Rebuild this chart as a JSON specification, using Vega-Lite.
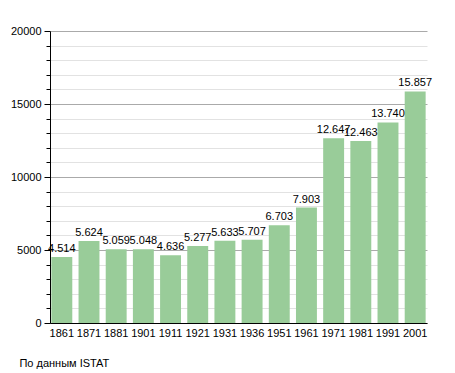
{
  "$schema": "https://vega.github.io/schema/vega-lite/v6.json",
  "width": 377,
  "height": 292,
  "autosize": "none",
  "padding": {"left": 50, "top": 31, "right": 28, "bottom": 50},
  "background": "white",
  "config": {
    "font": "Liberation Sans",
    "view": {"stroke": null},
    "locale": {"number": {"decimal": ",", "thousands": ".", "grouping": [3], "currency": ["", ""]}}
  },
  "title": {
    "text": "По данным  ISTAT",
    "orient": "bottom",
    "anchor": "start",
    "dx": 9,
    "offset": 20,
    "fontSize": 11,
    "fontWeight": "normal",
    "color": "#000000"
  },
  "data": {
    "values": [
      {"year": "1861", "pop": 4514},
      {"year": "1871", "pop": 5624},
      {"year": "1881", "pop": 5059},
      {"year": "1901", "pop": 5048},
      {"year": "1911", "pop": 4636},
      {"year": "1921", "pop": 5277},
      {"year": "1931", "pop": 5633},
      {"year": "1936", "pop": 5707},
      {"year": "1951", "pop": 6703},
      {"year": "1961", "pop": 7903},
      {"year": "1971", "pop": 12647},
      {"year": "1981", "pop": 12463},
      {"year": "1991", "pop": 13740},
      {"year": "2001", "pop": 15857}
    ]
  },
  "encoding": {
    "x": {
      "field": "year",
      "type": "ordinal",
      "sort": null,
      "scale": {"paddingInner": 0.23, "paddingOuter": 0.05},
      "axis": {
        "title": null,
        "labelAngle": 0,
        "ticks": false,
        "labelPadding": 4,
        "labelFontSize": 11,
        "labelColor": "#000000",
        "domainColor": "#000000",
        "domainWidth": 1
      }
    },
    "y": {
      "field": "pop",
      "type": "quantitative",
      "scale": {"domain": [0, 20000], "nice": false},
      "axis": {
        "title": null,
        "values": [0,1000,2000,3000,4000,5000,6000,7000,8000,9000,10000,11000,12000,13000,14000,15000,16000,17000,18000,19000,20000],
        "labelExpr": "datum.value % 5000 === 0 ? datum.value : ''",
        "format": "d",
        "labelFontSize": 11,
        "labelColor": "#000000",
        "labelPadding": 3,
        "domainColor": "#000000",
        "tickColor": "#000000",
        "tickSize": {"condition": {"test": "datum.value % 5000 === 0", "value": 6}, "value": 4},
        "grid": true,
        "gridColor": {"condition": {"test": "datum.value % 5000 === 0", "value": "#aaaaaa"}, "value": "#e2e2e2"}
      }
    }
  },
  "layer": [
    {"mark": {"type": "bar", "color": "#99cc99"}},
    {
      "mark": {"type": "text", "baseline": "bottom", "dy": -3, "fontSize": 11, "color": "#000000"},
      "encoding": {"text": {"field": "pop", "type": "quantitative", "format": ",d"}}
    }
  ]
}
